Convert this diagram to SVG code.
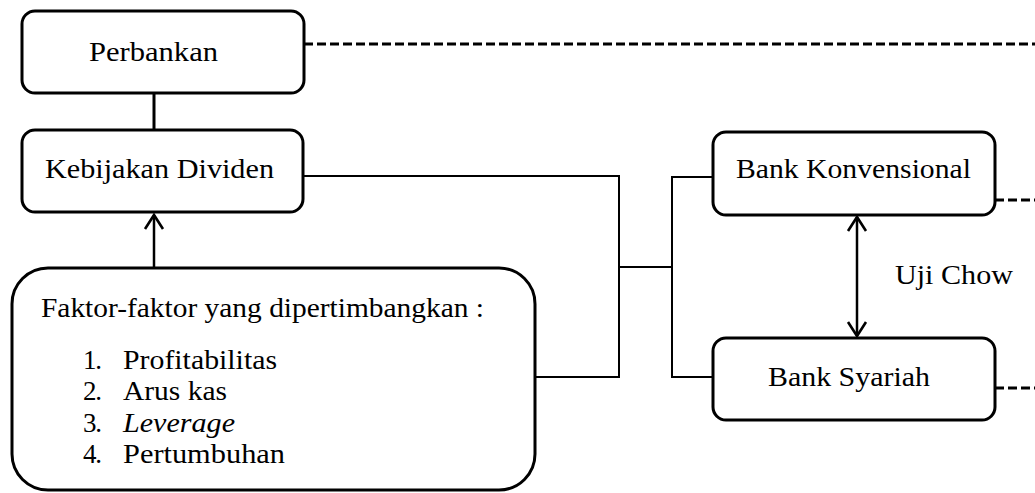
<svg xmlns="http://www.w3.org/2000/svg" width="1035" height="493" viewBox="0 0 1035 493">
<style>
.box{fill:#fff;stroke:#000;stroke-width:3}
.t{font-family:"Liberation Serif","Times New Roman",serif;font-size:27px;fill:#000}
.ln{fill:none;stroke:#000;stroke-width:2}
.dash{fill:none;stroke:#000;stroke-width:3;stroke-dasharray:9 4}
</style>
<defs>
<marker id="chev" markerUnits="userSpaceOnUse" viewBox="-16 -11 20 22" markerWidth="20" markerHeight="22" refX="0" refY="0" orient="auto-start-reverse">
<path d="M-14,-9 L0,0 L-14,9" fill="none" stroke="#000" stroke-width="2.6"/>
</marker>
</defs>
<rect width="1035" height="493" fill="#fff"/>
<g id="connectors">
<line class="dash" x1="304" y1="44" x2="1035" y2="44"/>
<line class="dash" x1="995" y1="200" x2="1035" y2="200"/>
<line class="dash" x1="995" y1="388" x2="1035" y2="388"/>
<line class="ln" x1="154" y1="93" x2="154" y2="130" style="stroke-width:3"/>
<line class="ln" x1="154" y1="268" x2="154" y2="215" marker-end="url(#chev)" style="stroke-width:2.5"/>
<polyline class="ln" points="303,176 619,176 619,377 535,377"/>
<line class="ln" x1="619" y1="267" x2="672" y2="267"/>
<polyline class="ln" points="713,177 672,177 672,377 713,377"/>
<line class="ln" x1="857" y1="217" x2="857" y2="336" marker-start="url(#chev)" marker-end="url(#chev)" style="stroke-width:2.5"/>
</g>
<g id="perbankan">
<rect class="box" x="22" y="11" width="282" height="82" rx="13"/>
<text class="t" x="89" y="61" textLength="129" lengthAdjust="spacingAndGlyphs">Perbankan</text>
</g>
<g id="kebijakan">
<rect class="box" x="22" y="130" width="281" height="82" rx="13"/>
<text class="t" x="45" y="178" textLength="229" lengthAdjust="spacingAndGlyphs">Kebijakan Dividen</text>
</g>
<g id="faktor">
<rect class="box" x="12" y="268" width="523" height="222" rx="36"/>
<text class="t" x="41" y="317" textLength="443" lengthAdjust="spacingAndGlyphs">Faktor-faktor yang dipertimbangkan :</text>
<text class="t" x="83" y="369" textLength="19" lengthAdjust="spacing">1.</text>
<text class="t" x="123" y="369" textLength="154" lengthAdjust="spacingAndGlyphs">Profitabilitas</text>
<text class="t" x="83" y="400" textLength="19" lengthAdjust="spacing">2.</text>
<text class="t" x="123" y="400" textLength="104" lengthAdjust="spacingAndGlyphs">Arus kas</text>
<text class="t" x="83" y="432" textLength="19" lengthAdjust="spacing">3.</text>
<text class="t" x="123" y="432" textLength="112" lengthAdjust="spacingAndGlyphs" font-style="italic">Leverage</text>
<text class="t" x="83" y="463" textLength="19" lengthAdjust="spacing">4.</text>
<text class="t" x="123" y="463" textLength="162" lengthAdjust="spacingAndGlyphs">Pertumbuhan</text>
</g>
<g id="konvensional">
<rect class="box" x="713" y="132" width="282" height="83" rx="13"/>
<text class="t" x="736" y="178" textLength="235" lengthAdjust="spacingAndGlyphs">Bank Konvensional</text>
</g>
<g id="syariah">
<rect class="box" x="713" y="338" width="282" height="82" rx="13"/>
<text class="t" x="768" y="386" textLength="162" lengthAdjust="spacingAndGlyphs">Bank Syariah</text>
</g>
<g id="ujichow">
<text class="t" x="895" y="284" textLength="118" lengthAdjust="spacingAndGlyphs">Uji Chow</text>
</g>
</svg>
